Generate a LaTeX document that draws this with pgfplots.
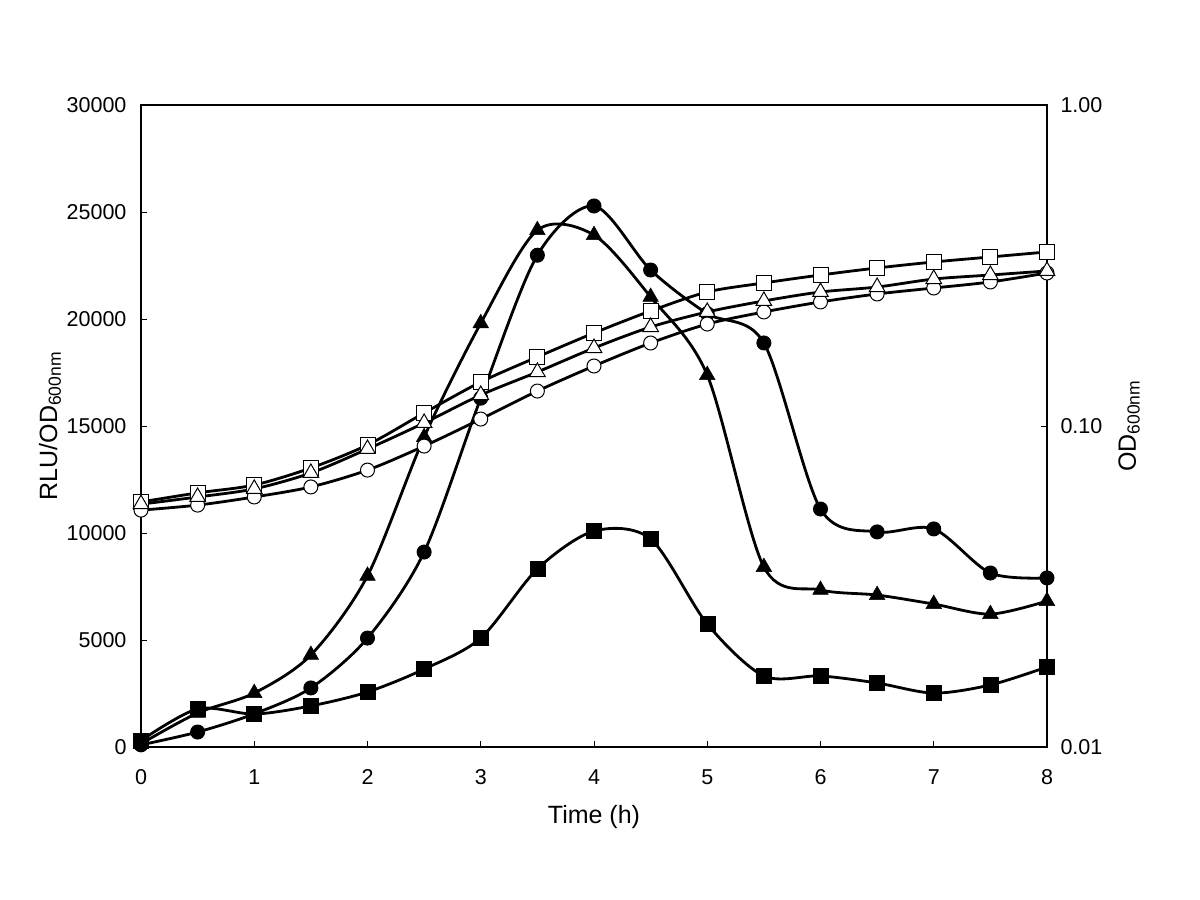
\documentclass[border=0pt]{standalone}
\usepackage{fontspec}
\setmainfont{Liberation Sans}
\usepackage{pgfplots}
\pgfplotsset{compat=1.18}
\begin{document}
\begin{tikzpicture}[x=1pt,y=1pt]
\path[use as bounding box] (-141,-153) rectangle (1059,747);
\pgfplotsset{
  every axis/.append style={
    scale only axis, width=906pt, height=642pt,
    at={(0,0)}, anchor=south west,
    xmin=0, xmax=8, clip=false,
    tick align=inside, major tick length=6pt,
    tick style={black, line width=0.8pt},
    axis line style={line width=2.6pt},
    tick label style={font=\fontsize{21.5}{25}\selectfont},
    /pgf/number format/assume math mode=true,
    /pgf/number format/set thousands separator={},
  },
  myline/.style={black, line width=2.8pt, smooth, tension=0.5},
}
\begin{axis}[
  ymin=0, ymax=30000,
  xtick={0,1,...,8}, ytick={0,5000,...,30000},
  xtick pos=bottom, ytick pos=left,
  scaled y ticks=false,
  xticklabel style={yshift=-19pt},
  yticklabel style={xshift=-11pt},
  xlabel={Time (h)},
  ylabel={RLU/OD\textsubscript{600nm}},
  every axis x label/.style={at={(axis description cs:0.5,0)}, yshift=-70pt, anchor=center, font=\fontsize{25}{30}\selectfont},
  every axis y label/.style={at={(axis description cs:0,0.5)}, xshift=-91pt, rotate=90, anchor=center, font=\fontsize{25}{30}\selectfont},
]
% filled circles
\addplot[myline, mark=*, mark size=7pt, mark options={fill=black, line width=1pt}] coordinates {
(0,100) (0.5,700) (1,1550) (1.5,2760) (2,5090) (2.5,9110) (3,16300) (3.5,22980) (4,25280) (4.5,22290) (5,20250) (5.5,18880) (6,11120) (6.5,10050) (7,10190) (7.5,8130) (8,7900)};
% filled triangles
\addplot[myline, mark=triangle*, mark size=9pt, mark options={fill=black, line width=0.5pt}] coordinates {
(0,150) (0.5,1590) (1,2520) (1.5,4300) (2,8000) (2.5,14480) (3,19800) (3.5,24150) (4,23920) (4.5,21030) (5,17380) (5.5,8410) (6,7340) (6.5,7100) (7,6680) (7.5,6210) (8,6820)};
% filled squares
\addplot[myline, mark=square*, mark size=7.5pt, mark options={fill=black, line width=0.5pt}] coordinates {
(0,300) (0.5,1780) (1,1540) (1.5,1920) (2,2570) (2.5,3640) (3,5090) (3.5,8320) (4,10090) (4.5,9720) (5,5750) (5.5,3320) (6,3320) (6.5,2990) (7,2520) (7.5,2900) (8,3740)};
\end{axis}
\begin{axis}[
  ymode=log, ymin=0.01, ymax=1,
  axis y line*=right, hide x axis,
  ytick={0.01,0.1,1}, yticklabels={0.01,0.10,1.00},
  yminorticks=false,
  yticklabel style={xshift=10pt},
  ylabel={OD\textsubscript{600nm}},
  every axis y label/.style={at={(axis description cs:1,0.5)}, xshift=82pt, rotate=90, anchor=center, font=\fontsize{25}{30}\selectfont},
]
% open squares
\addplot[myline, mark=square*, mark size=7.5pt, mark options={fill=white, line width=1pt}] coordinates {
(0,0.0580) (0.5,0.0619) (1,0.0655) (1.5,0.0740) (2,0.0873) (2.5,0.1098) (3,0.1371) (3.5,0.1641) (4,0.1949) (4.5,0.2282) (5,0.2615) (5.5,0.2790) (6,0.2954) (6.5,0.3107) (7,0.3243) (7.5,0.3362) (8,0.3485)};
% open circles
\addplot[myline, mark=*, mark size=7pt, mark options={fill=white, line width=1pt}] coordinates {
(0,0.0547) (0.5,0.0567) (1,0.0601) (1.5,0.0646) (2,0.0729) (2.5,0.0866) (3,0.1051) (3.5,0.1285) (4,0.1538) (4.5,0.1814) (5,0.2078) (5.5,0.2266) (6,0.2435) (6.5,0.2578) (7,0.2691) (7.5,0.2810) (8,0.2997)};
% open triangles
\addplot[myline, mark=triangle*, mark size=9pt, mark options={fill=white, line width=1pt}] coordinates {
(0,0.0571) (0.5,0.0601) (1,0.0637) (1.5,0.0714) (2,0.0848) (2.5,0.1022) (3,0.1249) (3.5,0.1473) (4,0.1750) (4.5,0.2034) (5,0.2266) (5.5,0.2452) (6,0.2615) (6.5,0.2710) (7,0.2870) (7.5,0.2954) (8,0.3041)};
\end{axis}
\end{tikzpicture}
\end{document}
